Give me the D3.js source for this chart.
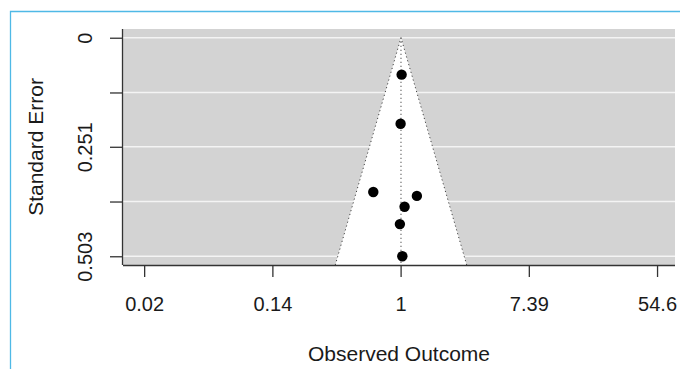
<!DOCTYPE html>
<html>
<head>
<meta charset="utf-8">
<script src="https://cdn.jsdelivr.net/npm/d3@7"></script>
<style>
	body { margin: 0; background: #fff; }
	text { font-family: "Liberation Sans", Arial, sans-serif; fill: #1a1a1a; }
</style>
</head>
<body>
<div id="chart"></div>
<script>
(function(){
	// observed outcomes (log scale) and their standard errors
	var yi = [0.016, 0.0, -0.426, 0.254, 0.062, -0.011, 0.027],
		sei = [0.085, 0.198, 0.355, 0.364, 0.389, 0.429, 0.503];

	var estimate = 0.006;

	var xTicks = [-4, -2, 0, 2, 4],
		xTickLabels = ["0.02", "0.14", "1", "7.39", "54.6"];

	var yTicks = [0, 0.126, 0.251, 0.377, 0.503],
		yTickLabels = ["0", "", "0.251", "", "0.503"];

	var width = 680,
		height = 369;

	var left = 123, right = 675, top = 29, bottom = 265;

	var svg = d3.select("#chart")
		.append("svg")
		.attr("width", width)
		.attr("height", height)

	// blue frame of the screenshot
	svg.append("path")
		.attr("d", "M10.5," + height + "V11.5H" + width)
		.attr("fill", "none")
		.attr("stroke", "#4fb9e6")
		.attr("stroke-width", 1.3)

	var x = d3.scaleLinear().domain([-4.33, 4.28]).range([left, right]),
		y = d3.scaleLinear().domain([-0.0201, 0.5231]).range([top, bottom]);

	// plot background
	svg.append("rect")
		.attr("x", left)
		.attr("y", top)
		.attr("width", right - left)
		.attr("height", bottom - top)
		.attr("fill", "#d3d3d3")

	// horizontal grid lines
	svg.selectAll(".grid")
		.data(yTicks)
		.enter().append("line")
		.attr("class", "grid")
		.attr("x1", left)
		.attr("x2", right)
		.attr("y1", function(d){ return y(d) })
		.attr("y2", function(d){ return y(d) })
		.attr("stroke", "#f4f4f4")
		.attr("stroke-width", 1.6)

	// funnel (pseudo confidence region)
	var seMax = y.domain()[1];
	var funnel = [
		[x(estimate - 1.96 * seMax), y(seMax)],
		[x(estimate), y(0)],
		[x(estimate + 1.96 * seMax), y(seMax)]
	];

	svg.append("path")
		.attr("d", d3.line()(funnel) + "Z")
		.attr("fill", "#fff")

	svg.append("path")
		.attr("d", d3.line()(funnel))
		.attr("fill", "none")
		.attr("stroke", "#444")
		.attr("stroke-dasharray", "1.2,2.8")

	svg.append("line")
		.attr("x1", x(estimate))
		.attr("x2", x(estimate))
		.attr("y1", y(0))
		.attr("y2", y(seMax))
		.attr("stroke", "#444")
		.attr("stroke-dasharray", "1.2,2.8")

	// points
	svg.selectAll(".study")
		.data(yi)
		.enter().append("circle")
		.attr("class", "study")
		.attr("cx", function(d){ return x(d) })
		.attr("cy", function(d, i){ return y(sei[i]) })
		.attr("r", 5.2)
		.attr("fill", "#000")

	// axes
	var xAxis = d3.axisBottom(x)
		.tickValues(xTicks)
		.tickSize(12)
		.tickPadding(20)
		.tickFormat(function(d, i){ return xTickLabels[i] })

	var gx = svg.append("g")
		.attr("transform", "translate(0," + bottom + ")")
		.call(xAxis)
	gx.select(".domain").attr("d", "M" + left + ",0.5H" + right).attr("stroke", "#333").attr("stroke-width", 1.3)
	gx.selectAll(".tick line").attr("stroke", "#333").attr("stroke-width", 1.3)
	gx.selectAll(".tick text").attr("font-size", 20).style("fill", "#1a1a1a")

	var yAxis = d3.axisLeft(y)
		.tickValues(yTicks)
		.tickSize(13)
		.tickFormat(function(d, i){ return yTickLabels[i] })

	var gy = svg.append("g")
		.attr("transform", "translate(" + left + ",0)")
		.call(yAxis)
	gy.select(".domain").attr("d", "M-0.5," + top + "V" + bottom).attr("stroke", "#333").attr("stroke-width", 1.3)
	gy.selectAll(".tick line").attr("stroke", "#333").attr("stroke-width", 1.3)
	gy.selectAll(".tick text")
		.attr("font-size", 20)
		.style("fill", "#1a1a1a")
		.attr("x", 0)
		.attr("dy", 0)
		.attr("text-anchor", "middle")
		.attr("transform", "translate(-31,0) rotate(-90)")

	// axis titles
	svg.append("text")
		.attr("x", (left + right) / 2)
		.attr("y", 361)
		.attr("text-anchor", "middle")
		.attr("font-size", 21)
		.text("Observed Outcome")

	svg.append("text")
		.attr("transform", "translate(43," + (top + bottom) / 2 + ") rotate(-90)")
		.attr("text-anchor", "middle")
		.attr("font-size", 21)
		.text("Standard Error")
})();
</script>
</body>
</html>
